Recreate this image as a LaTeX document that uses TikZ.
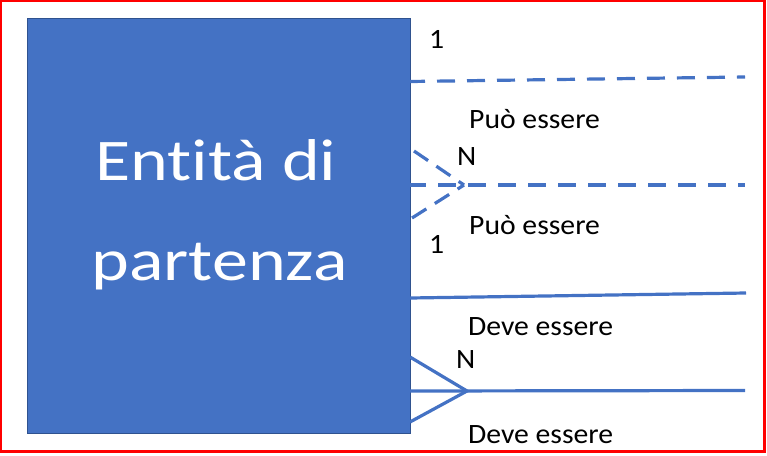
\documentclass[tikz,border=0pt]{standalone}
\usepackage{fontspec}
\setmainfont{Carlito}
\newfontfamily\bigfont[FakeStretch=1.22,Ligatures=NoCommon]{Carlito}
\newfontfamily\lblfont[FakeStretch=1.06,Ligatures=NoCommon]{Carlito}
\definecolor{entblue}{HTML}{4472C4}
\definecolor{entedge}{HTML}{2F528F}
\begin{document}
\begin{tikzpicture}[x=1pt,y=-1pt,
  relline/.style={draw=entblue, line width=3.2pt},
  reldash/.style={relline, dash pattern=on 18pt off 12pt},
  lbl/.style={anchor=base west, inner sep=0pt, text=black, font=\lblfont\fontsize{28}{34}\selectfont},
  bigtxt/.style={anchor=base, inner sep=0pt, text=white, font=\bigfont\fontsize{59}{70}\selectfont}]
\useasboundingbox (0,0) rectangle (767,455);
\draw[red, line width=2.5pt] (1.2,1.2) rectangle (764.5,451.3);
% entity box
\node[draw=entedge, line width=1.2pt, fill=entblue, minimum width=383pt, minimum height=415pt, anchor=north west, inner sep=0pt] (box) at (27,18) {};
\node[bigtxt] (t1) at (216,180) {Entità di};
\node[bigtxt] (t2) at (219.5,280) {partenza};
% coordinates
\coordinate (s1) at (410,81.5);
\coordinate (e1) at (745,77);
\coordinate (s2) at (410,185);
\coordinate (e2) at (745,185);
\coordinate (c2) at (464,185);
\coordinate (u2) at (414,151);
\coordinate (d2) at (412,218);
\coordinate (s3) at (410,298);
\coordinate (e3) at (746,293);
\coordinate (s4) at (410,391);
\coordinate (e4) at (745,390.5);
\coordinate (c4) at (467,391);
\coordinate (u4) at (410,357);
\coordinate (d4) at (410,422);
% connectors
\draw[reldash, dash phase=3pt] (s1) -- (e1);
\draw[reldash, dash phase=2pt] (s2) -- (e2);
\draw[reldash, dash pattern=on 17pt off 10pt] (u2) -- (c2);
\draw[reldash, dash pattern=on 17pt off 10pt] (d2) -- (c2);
\draw[relline] (s3) -- (e3);
\draw[relline] (s4) -- (e4);
\draw[relline] (u4) -- (c4) -- (d4);
% labels
\node[lbl] (n1) at (429,48) {1};
\node[lbl] (p1) at (469,128) {Può essere};
\node[lbl] (N1) at (457,165) {N};
\node[lbl] (p2) at (469,234) {Può essere};
\node[lbl] (n2) at (429,253) {1};
\node[lbl] (d1) at (468,335) {Deve essere};
\node[lbl] (N2) at (456,368) {N};
\node[lbl] (d3) at (468,443) {Deve essere};
\end{tikzpicture}
\end{document}
